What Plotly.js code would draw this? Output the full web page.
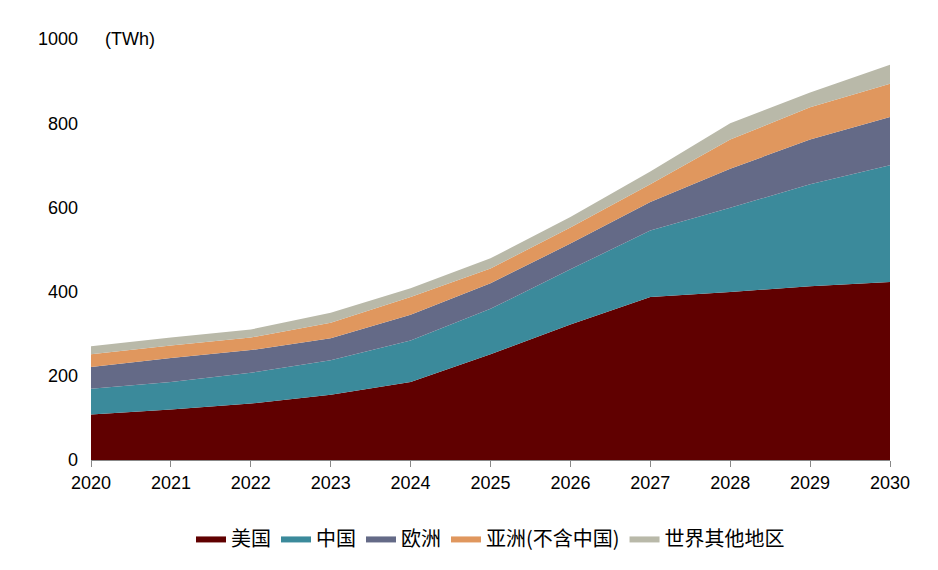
<!DOCTYPE html>
<html><head><meta charset="utf-8">
<script src="https://cdn.plot.ly/plotly-3.0.1.min.js"></script>
</head><body style="margin:0">
<div id="c" style="width:938px;height:570px"></div>
<script>
const years = ['2020','2021','2022','2023','2024','2025','2026','2027','2028','2029','2030'];
const usa    = [108,120,134,155,185,251,322,387,399,413,423];
const china  = [61,65,73,82,99,108,131,158,200,242,277];
const europe = [52,57,54,52,61,61,61,68,93,106,115];
const asia   = [30,30,30,37,42,35,38,42,69,77,79];
const others = [19,19,19,24,21,24,25,30,39,35,45];
const names = ['美国','中国','欧洲','亚洲(不含中国)','世界其他地区'];
const colors = ['#600000','#3b8a9b','#646a87','#e0975e','#b9b9a9'];
const series = [usa,china,europe,asia,others];
const traces = series.map((s,i)=>({x:years,y:s,name:names[i],type:'scatter',mode:'lines',
  stackgroup:'one',line:{width:0,color:colors[i]},fillcolor:colors[i]}));
Plotly.newPlot('c',traces,{
  width:938,height:570,margin:{l:91,r:48,t:39,b:105},
  paper_bgcolor:'#fff',plot_bgcolor:'#fff',
  font:{family:'Arial, Liberation Sans, Noto Sans CJK SC',size:18,color:'#000'},
  xaxis:{type:'category',range:[0,10],showgrid:false,showline:true,linecolor:'#888',ticks:'outside',ticklen:6,tickcolor:'#888',tickfont:{size:18}},
  yaxis:{range:[0,1000],dtick:200,showgrid:false,zeroline:false,showline:false,ticks:'',tickfont:{size:18},ticklabelstandoff:12},
  showlegend:true,
  legend:{orientation:'h',x:0.5,xanchor:'center',y:-0.14,yanchor:'top',font:{size:20,family:'Noto Sans CJK SC'},traceorder:'normal'},
  annotations:[{text:'(TWh)',xref:'paper',yref:'paper',x:0.015,y:1,xanchor:'left',yanchor:'middle',showarrow:false,font:{size:18}}]
},{displayModeBar:false});
</script></body></html>
